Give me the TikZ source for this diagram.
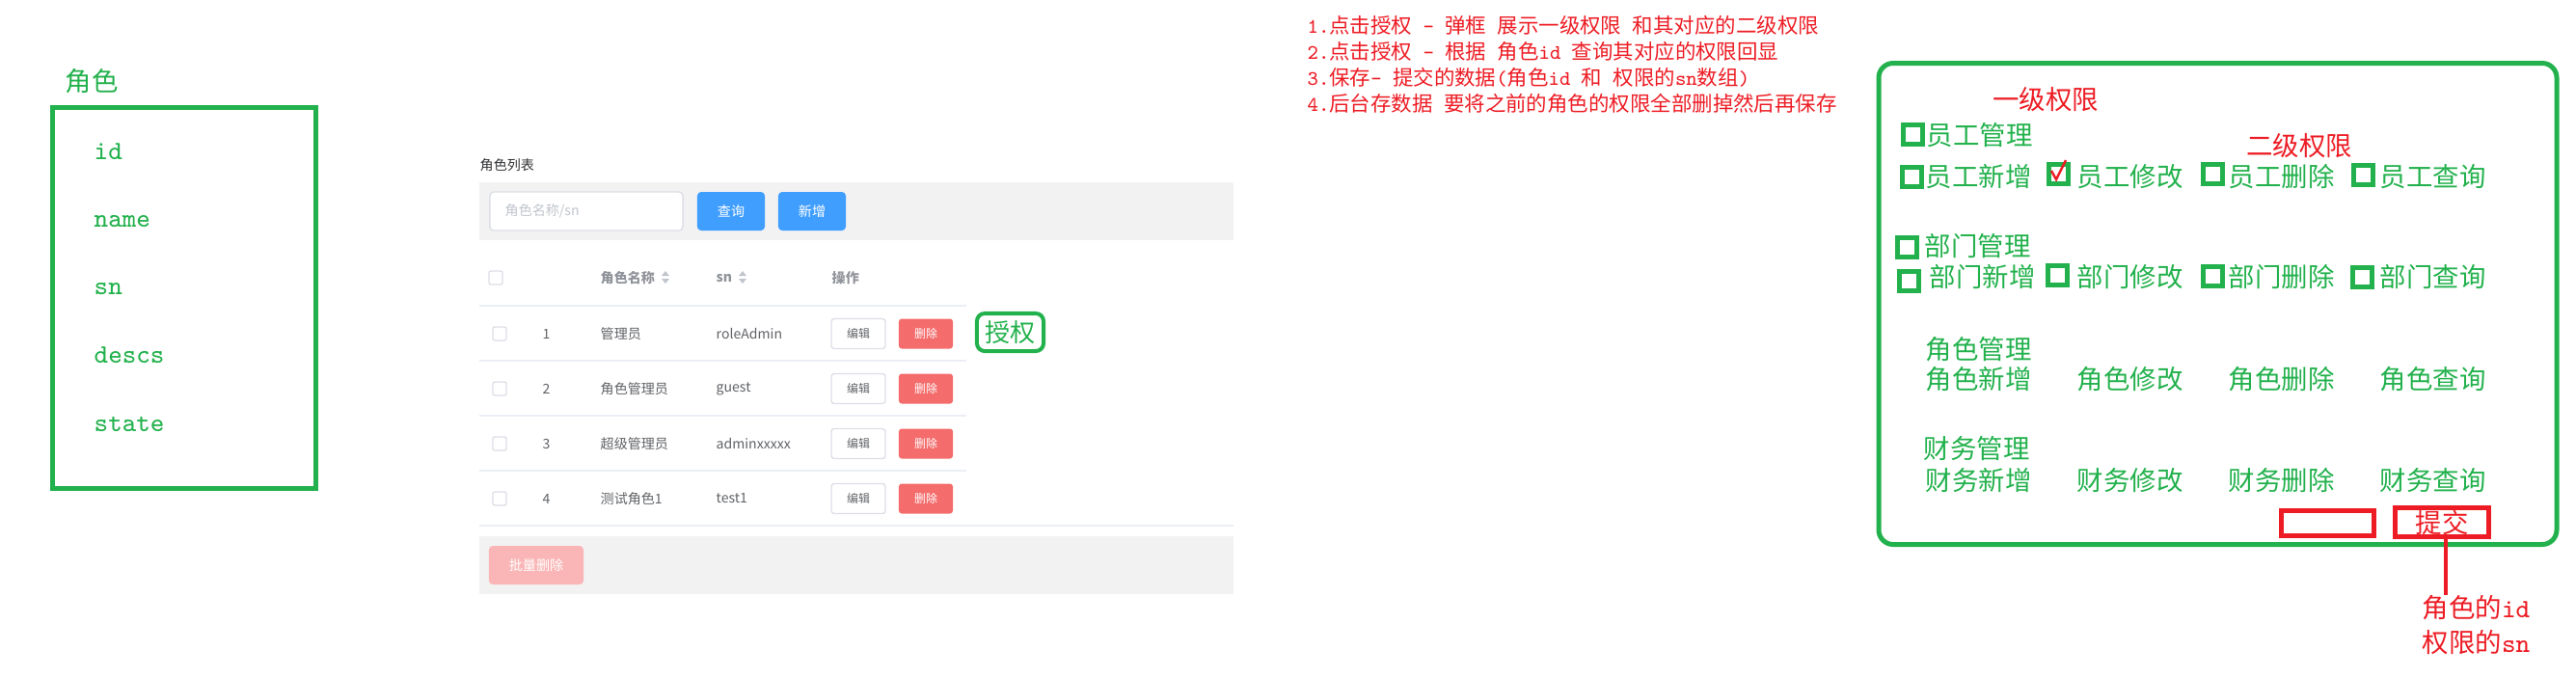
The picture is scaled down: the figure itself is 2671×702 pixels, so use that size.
\documentclass[tikz,border=0pt]{standalone}
\usepackage{fontspec}
\setmainfont{Noto Sans CJK SC}
\usepackage{xcolor}
\usepackage{tikz}
\usetikzlibrary{positioning}

\definecolor{pgreen}{HTML}{22B14C}
\definecolor{pred}{HTML}{ED1C24}
\definecolor{elblue}{HTML}{409EFF}
\definecolor{eldanger}{HTML}{F56C6C}
\definecolor{elpale}{HTML}{FAB6B6}
\definecolor{elbar}{HTML}{F2F2F2}
\definecolor{elborder}{HTML}{DCDFE6}
\definecolor{elline}{HTML}{EBEEF5}
\definecolor{eltext}{HTML}{606266}
\definecolor{elhead}{HTML}{909399}
\definecolor{eltitle}{HTML}{303133}
\definecolor{elholder}{HTML}{C0C4CC}

\newcommand{\lat}[1]{{\ttfamily #1}}

\begin{document}
\begin{tikzpicture}[x=0.01cm, y=-0.01cm,
  gtext/.style={inner sep=0, anchor=west, text=pgreen, font=\fontsize{7.8pt}{9pt}\selectfont},
  rtext/.style={inner sep=0, text=pred, font=\fontsize{7.8pt}{9pt}\selectfont},
  note/.style={inner sep=0, anchor=west, text=pred, font=\fontsize{6.1pt}{7pt}\selectfont},
  field/.style={inner sep=0, anchor=west, text=pgreen, font=\fontsize{7.8pt}{9pt}\ttfamily},
  cbox/.style={draw=pgreen, line width=1.42pt, minimum size=0.20cm, inner sep=0},
  redbox/.style={draw=pred, line width=1.42pt, inner sep=0},
  cell/.style={inner sep=0, anchor=west, text=eltext, font=\fontsize{4pt}{5pt}\selectfont},
  head/.style={inner sep=0, anchor=west, text=elhead, font=\fontsize{4pt}{5pt}\selectfont\bfseries},
  chk/.style={draw=elborder, fill=white, rounded corners=0.02cm, minimum size=0.14cm, inner sep=0},
  btn/.style={rounded corners=0.04cm, minimum width=0.70cm, minimum height=0.40cm, inner sep=0, text=white, font=\fontsize{4pt}{5pt}\selectfont},
  sbtn/.style={rounded corners=0.03cm, minimum width=0.56cm, minimum height=0.31cm, inner sep=0, font=\fontsize{3.4pt}{4pt}\selectfont}
]
\useasboundingbox (0,0) rectangle (2671,702);

% role entity
\node[gtext, anchor=center] (role) at (95,84) {角色};
\node[draw=pgreen, line width=1.42pt, minimum width=2.72cm, minimum height=3.94cm] (rolebox) at (191,309) {};
\node[field] (fid) at (97,157) {id};
\node[field] (fname) at (97,230) {name};
\node[field] (fsn) at (97,300) {sn};
\node[field] (fdescs) at (97,368) {descs};
\node[field] (fstate) at (97,440) {state};

% role list page
\node[cell, text=eltitle] (title) at (497,171) {角色列表};
\fill[elbar] (497,189) rectangle (1279,249);
\node[draw=elborder, fill=white, rounded corners=0.04cm, minimum width=2.00cm, minimum height=0.40cm] (search) at (608,219) {};
\node[cell, text=elholder] (hint) at (523,219) {角色名称/sn};
\node[btn, fill=elblue] (query) at (758,219) {查询};
\node[btn, fill=elblue] (add) at (842,219) {新增};

\node[chk] (chk0) at (514,288) {};
\node[head] (hname) at (622,288) {角色名称};
\node[head] (hsn) at (742,288) {sn};
\node[head] (hop) at (862,288) {操作};
\fill[elholder] (686,286) -- (690,281) -- (694,286) -- cycle;
\fill[elholder] (686,289) -- (690,294) -- (694,289) -- cycle;
\fill[elholder] (766,286) -- (770,281) -- (774,286) -- cycle;
\fill[elholder] (766,289) -- (770,294) -- (774,289) -- cycle;
\draw[elline] (497,317) -- (1002,317);
\draw[elline] (497,374) -- (1002,374);
\draw[elline] (497,431) -- (1002,431);
\draw[elline] (497,488) -- (1002,488);
\draw[elline] (497,545) -- (1279,545);

\node[chk] (chk1) at (518,346) {};
\node[cell] (n1) at (562,346) {1};
\node[cell] (name1) at (622,346) {管理员};
\node[cell] (sn1) at (742,346) {roleAdmin};
\node[sbtn, draw=elborder, text=eltext] (edit1) at (890,346) {编辑};
\node[sbtn, fill=eldanger, text=white] (del1) at (960,346) {删除};

\node[chk] (chk2) at (518,403) {};
\node[cell] (n2) at (562,403) {2};
\node[cell] (name2) at (622,403) {角色管理员};
\node[cell] (sn2) at (742,403) {guest};
\node[sbtn, draw=elborder, text=eltext] (edit2) at (890,403) {编辑};
\node[sbtn, fill=eldanger, text=white] (del2) at (960,403) {删除};

\node[chk] (chk3) at (518,460) {};
\node[cell] (n3) at (562,460) {3};
\node[cell] (name3) at (622,460) {超级管理员};
\node[cell] (sn3) at (742,460) {adminxxxxx};
\node[sbtn, draw=elborder, text=eltext] (edit3) at (890,460) {编辑};
\node[sbtn, fill=eldanger, text=white] (del3) at (960,460) {删除};

\node[chk] (chk4) at (518,517) {};
\node[cell] (n4) at (562,517) {4};
\node[cell] (name4) at (622,517) {测试角色1};
\node[cell] (sn4) at (742,517) {test1};
\node[sbtn, draw=elborder, text=eltext] (edit4) at (890,517) {编辑};
\node[sbtn, fill=eldanger, text=white] (del4) at (960,517) {删除};

\fill[elbar] (497,556) rectangle (1279,616);
\node[btn, fill=elpale, minimum width=0.98cm] (batch) at (556,586) {批量删除};

\node[draw=pgreen, line width=1.14pt, rounded corners=0.08cm, minimum width=0.69cm, minimum height=0.39cm, inner sep=0, text=pgreen, font=\fontsize{7.4pt}{8pt}\selectfont] (grant) at (1047.5,344.5) {授权};

% steps
\node[note] (s1) at (1355,26) {\lat{1.}点击授权\lat{ - }弹框\lat{ }展示一级权限\lat{ }和其对应的二级权限};
\node[note] (s2) at (1355,53) {\lat{2.}点击授权\lat{ - }根据\lat{ }角色\lat{id }查询其对应的权限回显};
\node[note] (s3) at (1355,80) {\lat{3.}保存\lat{- }提交的数据\lat{(}角色\lat{id }和\lat{ }权限的\lat{sn}数组\lat{)}};
\node[note] (s4) at (1355,107) {\lat{4.}后台存数据\lat{ }要将之前的角色的权限全部删掉然后再保存};

% grant dialog
\draw[pgreen, line width=1.42pt, rounded corners=0.15cm] (1948,65.5) rectangle (2651,564.5);
\node[rtext] (lv1) at (2121,103) {一级权限};
\node[rtext] (lv2) at (2384,151) {二级权限};

\node[cbox] (cb1) at (1983.5,139) {};
\node[gtext] (emp) at (1997,140) {员工管理};
\node[cbox] (cb11) at (1982.5,183.5) {};
\node[gtext] (emp1) at (1996,183) {员工新增};
\node[cbox] (cb12) at (2134.5,180.5) {};
\node[gtext] (emp2) at (2153,183) {员工修改};
\node[cbox] (cb13) at (2294.5,180.5) {};
\node[gtext] (emp3) at (2310,183) {员工删除};
\node[cbox] (cb14) at (2450.5,181.5) {};
\node[gtext] (emp4) at (2467,183) {员工查询};
\draw[pred, line width=0.7pt] (2127,177) -- (2132,186) -- (2142,166);

\node[cbox] (cb2) at (1977.5,256.5) {};
\node[gtext] (dept) at (1995,255) {部门管理};
\node[cbox] (cb21) at (1979,291) {};
\node[gtext] (dept1) at (2000,287) {部门新增};
\node[cbox] (cb22) at (2133.5,285.5) {};
\node[gtext] (dept2) at (2153,287) {部门修改};
\node[cbox] (cb23) at (2294.5,286.5) {};
\node[gtext] (dept3) at (2310,287) {部门删除};
\node[cbox] (cb24) at (2449.5,287) {};
\node[gtext] (dept4) at (2467,287) {部门查询};

\node[gtext] (rol) at (1996,362) {角色管理};
\node[gtext] (rol1) at (1996,393) {角色新增};
\node[gtext] (rol2) at (2153,393) {角色修改};
\node[gtext] (rol3) at (2310,393) {角色删除};
\node[gtext] (rol4) at (2467,393) {角色查询};

\node[gtext] (fin) at (1994,465) {财务管理};
\node[gtext] (fin1) at (1996,498) {财务新增};
\node[gtext] (fin2) at (2153,498) {财务修改};
\node[gtext] (fin3) at (2310,498) {财务删除};
\node[gtext] (fin4) at (2467,498) {财务查询};

\node[redbox, minimum width=0.96cm, minimum height=0.26cm] (blank) at (2413.5,542.5) {};
\node[redbox, minimum width=0.97cm, minimum height=0.30cm, text=pred, font=\fontsize{7.8pt}{9pt}\selectfont] (submit) at (2532,541.5) {提交};
\node[rtext, anchor=north west, align=left, font=\fontsize{7.8pt}{10pt}\selectfont] (payload) at (2511,617) {角色的\lat{id}\\权限的\lat{sn}};
\draw[pred, line width=1.14pt] ([xshift=0.04cm]submit.south) -- ([xshift=0.04cm]submit.south |- payload.north);
\end{tikzpicture}
\end{document}
